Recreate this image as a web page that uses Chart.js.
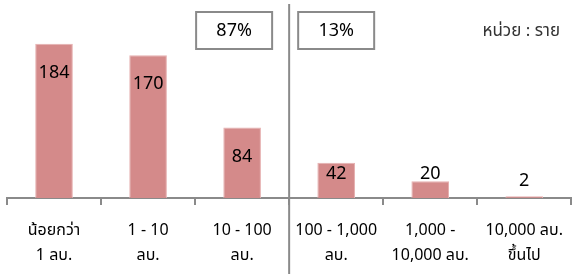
<!DOCTYPE html>
<html>
<head>
<meta charset="utf-8">
<script src="https://cdn.jsdelivr.net/npm/chart.js@4/dist/chart.umd.min.js"></script>
<style>
  html, body { margin: 0; padding: 0; background: #fff; }
  #wrap { width: 576px; height: 274px; }
</style>
</head>
<body>
<div id="wrap"><canvas id="c" width="576" height="274"></canvas></div>
<script>
var categories = [
  ["น้อยกว่า", "1 ลบ."],
  ["1 - 10", "ลบ."],
  ["10 - 100", "ลบ."],
  ["100 - 1,000", "ลบ."],
  ["1,000 -", "10,000 ลบ."],
  ["10,000 ลบ.", "ขึ้นไป"]
];
var counts = [184, 170, 84, 42, 20, 2];
var shareLabels = ["87%", "13%"];
var unitText = "หน่วย : ราย";

var FONT = "Tahoma, 'Noto Sans', 'Noto Sans Thai', sans-serif";

var overlay = {
  id: 'overlay',
  afterDraw: function (chart) {
    var ctx = chart.ctx;
    var x = chart.scales.x;
    var meta = chart.getDatasetMeta(0);
    ctx.save();

    // divider between group 1 and group 2
    var divX = (x.getPixelForValue(2) + x.getPixelForValue(3)) / 2;
    ctx.strokeStyle = '#8a8a8a';
    ctx.lineWidth = 2;
    ctx.beginPath();
    ctx.moveTo(divX, 4);
    ctx.lineTo(divX, 274);
    ctx.stroke();

    // share boxes
    var boxCenters = [x.getPixelForValue(2) - 8, x.getPixelForValue(3)];
    ctx.font = '18px ' + FONT;
    ctx.textAlign = 'center';
    ctx.textBaseline = 'middle';
    for (var i = 0; i < shareLabels.length; i++) {
      ctx.fillStyle = '#fff';
      ctx.fillRect(boxCenters[i] - 38, 12, 76, 37);
      ctx.strokeStyle = '#8a8a8a';
      ctx.lineWidth = 2;
      ctx.strokeRect(boxCenters[i] - 38, 12, 76, 37);
      ctx.fillStyle = '#000';
      ctx.fillText(shareLabels[i], boxCenters[i], 31);
    }

    // unit
    ctx.font = '17px ' + FONT;
    ctx.fillStyle = '#333';
    ctx.textAlign = 'right';
    ctx.fillText(unitText, 560, 31);

    // value labels: inside the top of tall bars, above short ones
    ctx.font = '18px ' + FONT;
    ctx.fillStyle = '#000';
    ctx.textAlign = 'center';
    meta.data.forEach(function (el, idx) {
      var y = Math.min(el.y + 29, Math.max(el.base - 24, el.y - 15));
      ctx.fillText(String(counts[idx]), el.x, y);
    });
    ctx.restore();
  }
};

new Chart(document.getElementById('c'), {
  type: 'bar',
  data: {
    labels: categories,
    datasets: [{
      data: counts,
      backgroundColor: '#d48a8a',
      borderColor: '#e6b0b0',
      borderWidth: 1,
      categoryPercentage: 1,
      barPercentage: 0.4
    }]
  },
  options: {
    responsive: false,
    animation: false,
    layout: { padding: { left: 7, right: 1, top: 0, bottom: 0 } },
    plugins: { legend: { display: false }, tooltip: { enabled: false } },
    scales: {
      y: { display: false, min: 0, max: 236 },
      x: {
        afterFit: function (scale) { scale.height = 76; },
        grid: { drawOnChartArea: false, drawTicks: true, tickLength: 7, color: '#8a8a8a', lineWidth: 2 },
        border: { color: '#8a8a8a', width: 2 },
        ticks: {
          color: '#000',
          padding: 13,
          maxRotation: 0,
          autoSkip: false,
          font: { family: FONT, size: 16, lineHeight: 1.5625 }
        }
      }
    }
  },
  plugins: [overlay]
});
</script>
</body>
</html>
